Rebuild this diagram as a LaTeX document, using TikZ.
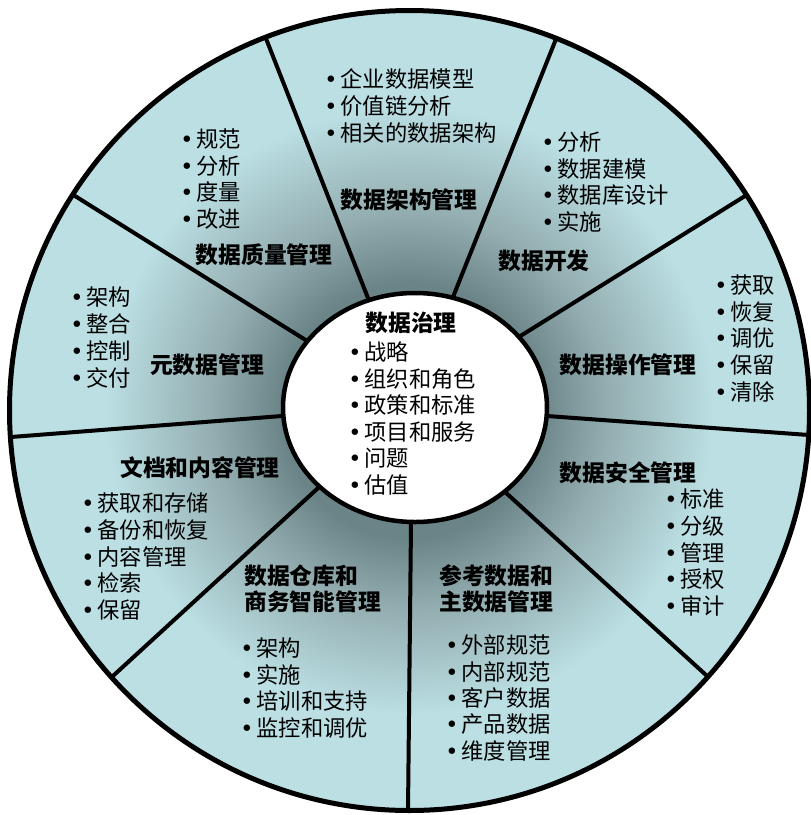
\documentclass[tikz,border=0pt]{standalone}
\usepackage{fontspec}
\setmainfont{Noto Sans CJK SC}
\newfontfamily\dv{DejaVu Sans}
\usetikzlibrary{calc}
\definecolor{wlight}{RGB}{187,223,227}
\definecolor{wmid}{RGB}{148,174,177}
\definecolor{wdark}{RGB}{106,132,135}
\pgfdeclareradialshading{wheelshade}{\pgfpoint{0bp}{0bp}}{color(0bp)=(wdark); color(8bp)=(wdark); color(12.5bp)=(wmid); color(19bp)=(wlight); color(50bp)=(wlight)}
\newcommand\bul{{\dv •}\hspace{3pt}}
\tikzset{
  itemtext/.style={anchor=west, inner sep=0pt, font=\fontsize{22.3}{24}\selectfont},
  ttl/.style={inner sep=0pt, font=\fontsize{22.8}{25}\selectfont\bfseries},
  ttlw/.style={ttl, anchor=west},
  spoke/.style={line width=4pt},
}
\newcommand\blockitems[5]{% name, bullet x, first y, dy, list
  \foreach \t [count=\i] in {#5} {
    \node[itemtext] (#1-\i) at ({#2-6.8},{#3+(\i-1)*#4}) {\bul\t};
  }
}
\begin{document}
\begin{tikzpicture}[x=1pt,y=-1pt]
\useasboundingbox (0,0) rectangle (811,815);
\coordinate (oc) at (409.5,410.5);
\coordinate (ic) at (415,407.5);
\shade[shading=wheelshade] (oc) circle[radius=400pt];
% spoke end points
\coordinate (o1) at (265,36);  \coordinate (i1) at (366,293);
\coordinate (o2) at (556,39);  \coordinate (i2) at (455,292);
\coordinate (o3) at (745,196); \coordinate (i3) at (522,335);
\coordinate (o4) at (809,435); \coordinate (i4) at (547,416);
\coordinate (o5) at (706,675); \coordinate (i5) at (504,491);
\coordinate (o6) at (408,811); \coordinate (i6) at (411,524);
\coordinate (o7) at (114,675); \coordinate (i7) at (317,489);
\coordinate (o8) at (11,437);  \coordinate (i8) at (282,416);
\coordinate (o9) at (75,196);  \coordinate (i9) at (304,339);
\begin{scope}
  \clip (oc) circle[radius=400pt];
  \foreach \k in {1,...,9} {
    \draw[spoke] ($(i\k)!-0.1!(o\k)$) -- ($(i\k)!1.1!(o\k)$);
  }
\end{scope}
\draw[line width=4.5pt, fill=white] (ic) ellipse[x radius=132pt, y radius=114.5pt];
\draw[line width=5pt] (oc) circle[radius=400pt];

% centre
\node[ttl] (gov) at (411,323) {数据治理};
\blockitems{gv}{355}{352}{26.6}{战略,组织和角色,政策和标准,项目和服务,问题,估值}
% architecture
\node[ttl] (arch) at (409,200) {数据架构管理};
\blockitems{ar}{331}{79}{27}{企业数据模型,价值链分析,相关的数据架构}
% development
\node[ttl] (dev) at (544,261) {数据开发};
\blockitems{dv}{548}{142}{26.7}{分析,数据建模,数据库设计,实施}
% quality
\node[ttl] (qual) at (264,255) {数据质量管理};
\blockitems{qu}{187}{139}{26.7}{规范,分析,度量,改进}
% metadata
\node[ttl] (meta) at (207,365) {元数据管理};
\blockitems{me}{77}{297}{27}{架构,整合,控制,交付}
% operations
\node[ttl] (ops) at (628,365) {数据操作管理};
\blockitems{op}{721}{285}{26.7}{获取,恢复,调优,保留,清除}
% documents
\node[ttl] (doc) at (200,468) {文档和内容管理};
\blockitems{dc}{88}{503}{26.8}{获取和存储,备份和恢复,内容管理,检索,保留}
% security
\node[ttl] (sec) at (628,473) {数据安全管理};
\blockitems{se}{671}{499}{26.8}{标准,分级,管理,授权,审计}
% warehouse
\node[ttlw] (dw1) at (244,576) {数据仓库和};
\node[ttlw] (dw2) at (244,602) {商务智能管理};
\blockitems{dw}{247}{648}{26.7}{架构,实施,培训和支持,监控和调优}
% reference & master
\node[ttlw] (rm1) at (439,576) {参考数据和};
\node[ttlw] (rm2) at (439,602) {主数据管理};
\blockitems{rm}{452}{645}{26.5}{外部规范,内部规范,客户数据,产品数据,维度管理}
\end{tikzpicture}
\end{document}
